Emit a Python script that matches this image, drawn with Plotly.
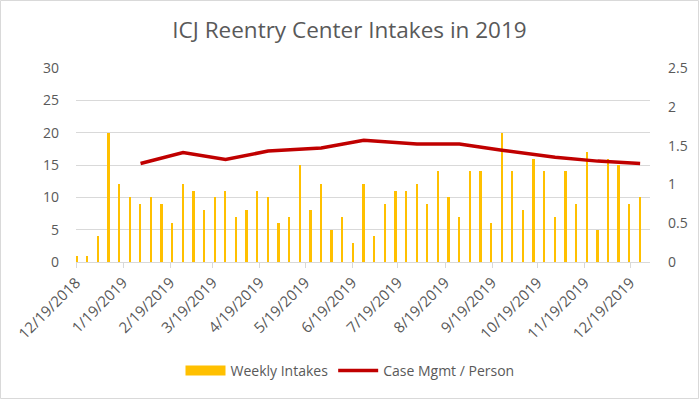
import plotly.graph_objects as go
import pandas as pd

# Weekly intake counts, weeks starting 12/19/2018
week_start = "2018-12-19"
weekly_intakes = [1, 1, 4, 20, 12, 10, 9, 10, 9, 6, 12, 11, 8, 10, 11, 7, 8, 11, 10, 6,
                  7, 15, 8, 12, 5, 7, 3, 12, 4, 9, 11, 11, 12, 9, 14, 10, 7, 14, 14, 6,
                  20, 14, 8, 16, 14, 7, 14, 9, 17, 5, 16, 15, 9, 10]

# Case management per person (monthly, last weekly date of each month)
case_dates = ["2019-01-30", "2019-02-27", "2019-03-27", "2019-04-24", "2019-05-29",
              "2019-06-26", "2019-07-31", "2019-08-28", "2019-09-25", "2019-10-30",
              "2019-11-27", "2019-12-25"]
case_mgmt = [1.27, 1.41, 1.32, 1.43, 1.47, 1.57, 1.52, 1.52, 1.44, 1.35, 1.30, 1.27]

tick_dates = ["2018-12-19", "2019-01-19", "2019-02-19", "2019-03-19", "2019-04-19",
              "2019-05-19", "2019-06-19", "2019-07-19", "2019-08-19", "2019-09-19",
              "2019-10-19", "2019-11-19", "2019-12-19"]
tick_labels = ["12/19/2018", "1/19/2019", "2/19/2019", "3/19/2019", "4/19/2019",
               "5/19/2019", "6/19/2019", "7/19/2019", "8/19/2019", "9/19/2019",
               "10/19/2019", "11/19/2019", "12/19/2019"]

week_dates = pd.date_range(week_start, periods=len(weekly_intakes), freq="7D")
bar_x = week_dates + pd.Timedelta(hours=12)
line_x = pd.to_datetime(case_dates) + pd.Timedelta(hours=12)

FONT = "Open Sans"
GRAY = "#595959"
GRID = "#D9D9D9"
YELLOW = "#FFC000"
RED = "#C00000"

fig = go.Figure()
fig.add_trace(go.Bar(
    x=bar_x, y=weekly_intakes, name="Weekly Intakes",
    marker=dict(color=YELLOW, line=dict(width=0)),
    width=1.2 * 86400000, yaxis="y", showlegend=False,
))
# legend-only entry giving the wide rectangular swatch
fig.add_trace(go.Scatter(
    x=[None], y=[None], name="Weekly Intakes", mode="lines",
    line=dict(color=YELLOW, width=10), yaxis="y",
))
fig.add_trace(go.Scatter(
    x=line_x, y=case_mgmt, name="Case Mgmt / Person", mode="lines",
    line=dict(color=RED, width=3.5), yaxis="y2",
))

L, R, T, B = 76, 49, 68, 137
W, H = 699, 399
pw, ph = W - L - R, H - T - B

fig.update_layout(
    width=W, height=H,
    margin=dict(l=L, r=R, t=T, b=B, pad=0, autoexpand=False),
    paper_bgcolor="white", plot_bgcolor="white",
    font=dict(family=FONT, color=GRAY, size=14),
    title=dict(text="ICJ Reentry Center Intakes in 2019", x=0.5, xanchor="center",
               y=1 - 30 / H, yanchor="middle",
               font=dict(family=FONT, size=22.5, color=GRAY)),
    bargap=0,
    showlegend=True,
    legend=dict(orientation="h", x=(350 - L) / pw, xanchor="center",
                y=(T + ph - 371) / ph, yanchor="middle",
                font=dict(family=FONT, size=14, color=GRAY),
                itemwidth=40, traceorder="normal", tracegroupgap=0),
    xaxis=dict(
        type="date", automargin=False,
        range=["2018-12-19", "2020-01-01"],
        tickvals=tick_dates, ticktext=tick_labels, tickangle=-45,
        ticks="outside", ticklen=5, tickcolor=GRID,
        showgrid=False, showline=True, linecolor=GRID, linewidth=1,
        tickfont=dict(family=FONT, size=15, color=GRAY),
        zeroline=False,
    ),
    yaxis=dict(
        range=[0, 30], dtick=5, showgrid=True, gridcolor=GRID, gridwidth=1,
        zeroline=False, showline=False, ticks="", automargin=False,
        ticklabelstandoff=16,
        tickfont=dict(family=FONT, size=14, color=GRAY),
    ),
    yaxis2=dict(
        range=[0, 2.5], dtick=0.5, overlaying="y", side="right",
        showgrid=False, zeroline=False, showline=False, ticks="", automargin=False,
        ticklabelstandoff=17, tickformat="~g",
        tickfont=dict(family=FONT, size=14, color=GRAY),
    ),
)

# thin border around the whole chart
fig.add_shape(type="rect", xref="paper", yref="paper",
              x0=-(L - 0.5) / pw, x1=(W - L - 0.5) / pw,
              y0=-(B - 0.5) / ph, y1=1 + (T - 0.5) / ph,
              line=dict(color=GRID, width=1), fillcolor="rgba(0,0,0,0)", layer="below")

fig.write_html("out.html", config={"displayModeBar": False},
               post_script="document.body.style.margin='0';document.body.style.overflow='hidden';")
